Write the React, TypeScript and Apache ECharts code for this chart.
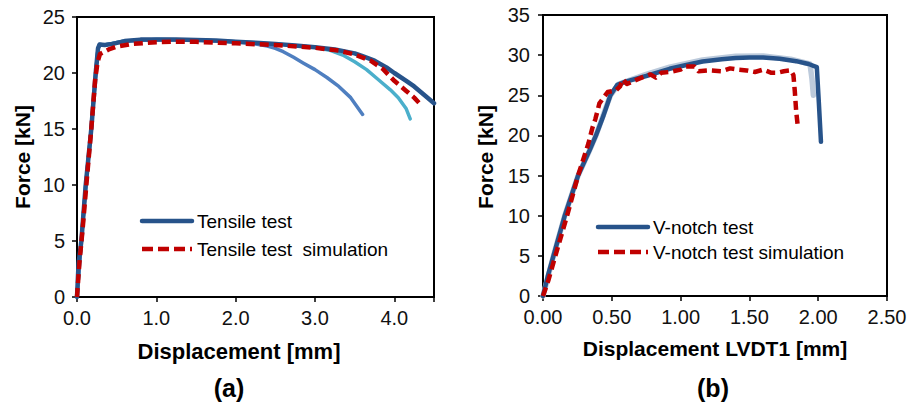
import React, { useEffect, useRef } from "react";
import * as echarts from "echarts";

const FONT = "'Liberation Sans', Arial, sans-serif";

// ---- Chart (a): tensile test ----
const aXTicks = [0, 1, 2, 3, 4];
const tensileX = [0, 0.02, 0.055, 0.11, 0.18, 0.236, 0.265, 0.285, 0.35, 0.45, 0.6, 0.8, 1.0, 1.25, 1.5, 1.75, 2.0, 2.25, 2.5, 2.75, 3.0, 3.25, 3.5, 3.6, 3.75, 3.9, 4.0, 4.15, 4.25, 4.4, 4.5];
const tensileY = [0, 3, 5, 10, 15, 20, 22.2, 22.55, 22.5, 22.6, 22.85, 22.98, 23.0, 23.0, 22.95, 22.9, 22.8, 22.7, 22.6, 22.45, 22.3, 22.1, 21.75, 21.5, 21.1, 20.5, 20.0, 19.3, 18.8, 17.9, 17.3];
const tensile2X = [0, 0.055, 0.11, 0.18, 0.236, 0.265, 0.285, 0.35, 0.6, 1.0, 1.5, 2.0, 2.2, 2.4, 2.5, 2.6, 2.73, 2.85, 3.0, 3.15, 3.3, 3.45, 3.6];
const tensile2Y = [0, 5, 10, 15, 20, 22.2, 22.55, 22.5, 22.85, 23.0, 22.95, 22.8, 22.65, 22.4, 22.2, 21.9, 21.4, 20.9, 20.3, 19.6, 18.8, 17.8, 16.3];
const tensile3X = [0, 0.055, 0.11, 0.18, 0.236, 0.265, 0.285, 0.35, 0.6, 1.0, 1.5, 2.0, 2.5, 3.0, 3.2, 3.35, 3.5, 3.65, 3.8, 3.95, 4.05, 4.15, 4.2];
const tensile3Y = [0, 5, 10, 15, 20, 22.2, 22.55, 22.5, 22.85, 23.0, 22.95, 22.8, 22.6, 22.3, 22.0, 21.6, 21.0, 20.3, 19.4, 18.5, 17.8, 16.8, 15.9];
const tensileSimX = [0, 0.03, 0.07, 0.13, 0.18, 0.23, 0.26, 0.29, 0.4, 0.5, 0.7, 1.0, 1.25, 1.5, 2.0, 2.5, 3.0, 3.3, 3.5, 3.7, 3.85, 4.0, 4.15, 4.25, 4.33];
const tensileSimY = [0, 3, 6, 11, 15, 19.5, 21.0, 21.7, 22.1, 22.35, 22.6, 22.75, 22.8, 22.78, 22.65, 22.5, 22.25, 22.0, 21.65, 21.1, 20.4, 19.3, 18.4, 17.8, 17.2];

// ---- Chart (b): V-notch test ----
const bXTicks = [0, 0.5, 1.0, 1.5, 2.0, 2.5];
const vnotchX = [0, 0.035, 0.076, 0.158, 0.255, 0.34, 0.385, 0.44, 0.49, 0.54, 0.6, 0.75, 0.92, 1.05, 1.16, 1.3, 1.4, 1.5, 1.6, 1.72, 1.84, 1.93, 1.99, 2.005, 2.02];
const vnotchY = [0, 2.5, 5, 10, 15, 18.2, 20, 22.5, 25, 26.3, 26.7, 27.4, 28.3, 28.8, 29.2, 29.5, 29.65, 29.7, 29.7, 29.55, 29.25, 28.9, 28.5, 24, 19.2];
const vnotch2X = [0, 0.076, 0.158, 0.255, 0.34, 0.385, 0.49, 0.55, 0.75, 0.92, 1.16, 1.4, 1.6, 1.8, 1.94, 1.955, 1.965];
const vnotch2Y = [0, 5, 10, 15, 18.2, 20, 25, 26.4, 27.6, 28.5, 29.4, 29.85, 29.9, 29.5, 28.9, 27, 25.0];
const vnotchSimX = [0, 0.04, 0.09, 0.175, 0.255, 0.33, 0.36, 0.38, 0.41, 0.47, 0.53, 0.56, 0.58, 0.61, 0.66, 0.73, 0.78, 0.82, 0.86, 0.92, 1.0, 1.04, 1.1, 1.13, 1.21, 1.3, 1.36, 1.42, 1.48, 1.54, 1.6, 1.66, 1.7, 1.75, 1.8, 1.82, 1.83, 1.84, 1.85];
const vnotchSimY = [0, 2, 5, 10, 15, 19, 21, 22, 24, 25.4, 25.6, 26.1, 27.0, 26.4, 26.8, 27.3, 27.6, 27.2, 27.8, 27.9, 28.2, 28.6, 28.6, 28.0, 28.1, 28.0, 28.35, 28.2, 28.1, 27.9, 28.2, 27.8, 27.8, 28.0, 28.1, 27.5, 25.5, 23, 21.4];

const legendA = ["Tensile test", "Tensile test  simulation"];
const legendB = ["V-notch test", "V-notch test simulation"];

const zip = (xs: number[], ys: number[]) => xs.map((x, i) => [x, ys[i]]);

const C_DARK = "#27538A";
const C_MED = "#4F7FC0";
const C_CYAN = "#4BAFCB";
const C_LIGHT = "#BCCADB";
const C_RED = "#C00000";
const DASH = [9, 5];

export default function App() {
  const ref = useRef<HTMLDivElement>(null);
  useEffect(() => {
    document.body.style.margin = "0";
    const chart = echarts.init(ref.current!, undefined, { renderer: "svg" });
    const axisLine = { show: true, onZero: false, lineStyle: { color: "#000", width: 2 } };
    const axisTick = { show: true, length: 5, lineStyle: { color: "#000", width: 1.5 } };
    const label = { fontSize: 20, color: "#111", fontFamily: FONT };
    const lineSeries = (name: string, xi: number, data: number[][], color: string, width: number, dashed = false) => ({
      name,
      type: "line",
      xAxisIndex: xi,
      yAxisIndex: xi,
      data,
      showSymbol: false,
      symbol: "none",
      smooth: false,
      lineStyle: { color, width, type: dashed ? DASH : "solid", cap: dashed ? "butt" : "round", join: "round" },
      itemStyle: { color },
      z: 2,
    });
    const legendItem = (x: number, y: number, text: string, color: string, dashed: boolean) => [
      {
        type: "line",
        shape: { x1: x, y1: y, x2: x + 50, y2: y },
        style: { stroke: color, lineWidth: 4.5, lineDash: dashed ? [11, 5] : null, lineCap: dashed ? "butt" : "round" },
      },
      {
        type: "text",
        x: x + 55,
        y,
        style: { text, font: `19px ${FONT}`, fill: "#000", align: "left", verticalAlign: "middle" },
      },
    ];
    const title = (x: number, y: number, text: string, size: number, rot = 0) => ({
      type: "text", x, y, rotation: rot,
      style: { text, font: `bold ${size}px ${FONT}`, fill: "#000", align: "center", verticalAlign: "middle" },
    });
    chart.setOption({
      animation: false,
      grid: [
        { left: 77, top: 17, width: 357, height: 280, show: true, borderColor: "#000", borderWidth: 2, backgroundColor: "transparent" },
        { left: 543, top: 15, width: 344, height: 281, show: true, borderColor: "#000", borderWidth: 2, backgroundColor: "transparent" },
      ],
      xAxis: [
        {
          type: "value", gridIndex: 0, min: aXTicks[0], max: 4.5, interval: 1,
          axisLine, axisTick, splitLine: { show: false },
          axisLabel: { ...label, margin: 11, formatter: (v: number) => (aXTicks.includes(v) ? v.toFixed(1) : "") },
        },
        {
          type: "value", gridIndex: 1, min: bXTicks[0], max: bXTicks[bXTicks.length - 1], interval: 0.5,
          axisLine, axisTick, splitLine: { show: false },
          axisLabel: { ...label, margin: 11, formatter: (v: number) => v.toFixed(2) },
        },
      ],
      yAxis: [
        {
          type: "value", gridIndex: 0, min: 0, max: 25, interval: 5,
          axisLine, axisTick, splitLine: { show: false },
          axisLabel: { ...label, margin: 12 },
        },
        {
          type: "value", gridIndex: 1, min: 0, max: 35, interval: 5,
          axisLine, axisTick, splitLine: { show: false },
          axisLabel: { ...label, margin: 13 },
        },
      ],
      graphic: [
        title(22, 157, "Force [kN]", 21, Math.PI / 2),
        title(239, 351, "Displacement [mm]", 22),
        title(229, 388, "(a)", 25),
        title(485, 157, "Force [kN]", 21, Math.PI / 2),
        title(715, 348, "Displacement LVDT1 [mm]", 21),
        title(713, 388, "(b)", 25),
        ...legendItem(142, 221, legendA[0], C_DARK, false),
        ...legendItem(142, 249, legendA[1], C_RED, true),
        ...legendItem(598, 227, legendB[0], C_DARK, false),
        ...legendItem(598, 252, legendB[1], C_RED, true),
      ],
      series: [
        lineSeries("Tensile test 3", 0, zip(tensile3X, tensile3Y), C_CYAN, 3.5),
        lineSeries("Tensile test 2", 0, zip(tensile2X, tensile2Y), C_MED, 3.5),
        lineSeries(legendA[0], 0, zip(tensileX, tensileY), C_DARK, 4.5),
        lineSeries(legendA[1], 0, zip(tensileSimX, tensileSimY), C_RED, 4.5, true),
        lineSeries("V-notch test 2", 1, zip(vnotch2X, vnotch2Y), C_LIGHT, 5.5),
        lineSeries(legendB[0], 1, zip(vnotchX, vnotchY), C_DARK, 4.5),
        lineSeries(legendB[1], 1, zip(vnotchSimX, vnotchSimY), C_RED, 4.5, true),
      ],
    });
    return () => chart.dispose();
  }, []);
  return <div ref={ref} style={{ width: 918, height: 404 }} />;
}
